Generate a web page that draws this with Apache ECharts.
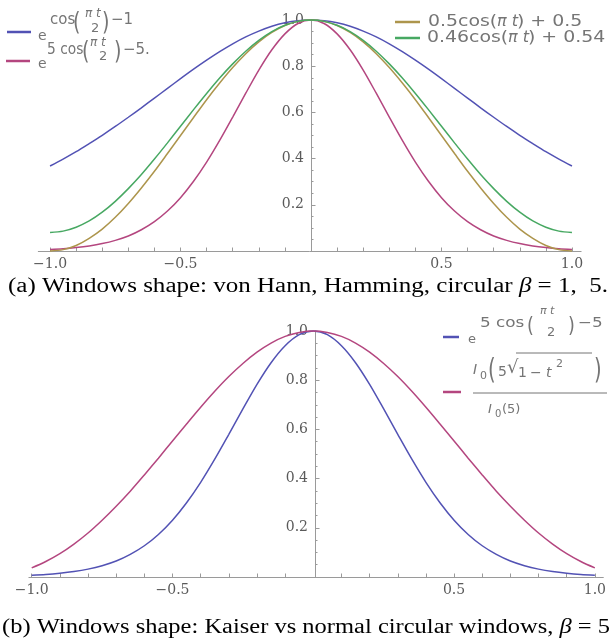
<!DOCTYPE html>
<html><head><meta charset="utf-8">
<script src="https://cdn.jsdelivr.net/npm/echarts@6/dist/echarts.min.js"></script>
<style>html,body{margin:0;padding:0;background:#fff}#c{width:609px;height:643px}</style>
</head><body><div id="c"></div>
<script>
// ---- data ----
const tValues = [-1.00,-0.95,-0.90,-0.85,-0.80,-0.75,-0.70,-0.65,-0.60,-0.55,-0.50,-0.45,-0.40,-0.35,-0.30,-0.25,-0.20,-0.15,-0.10,-0.05,0,0.05,0.10,0.15,0.20,0.25,0.30,0.35,0.40,0.45,0.50,0.55,0.60,0.65,0.70,0.75,0.80,0.85,0.90,0.95,1.00];
const circular1 = [0.368,0.398,0.430,0.465,0.501,0.539,0.579,0.620,0.662,0.704,0.746,0.787,0.826,0.863,0.897,0.927,0.952,0.973,0.988,0.997,1,0.997,0.988,0.973,0.952,0.927,0.897,0.863,0.826,0.787,0.746,0.704,0.662,0.620,0.579,0.539,0.501,0.465,0.430,0.398,0.368];
const circular5 = [0.007,0.010,0.015,0.022,0.032,0.046,0.065,0.092,0.127,0.173,0.231,0.302,0.385,0.479,0.580,0.683,0.783,0.871,0.940,0.985,1,0.985,0.940,0.871,0.783,0.683,0.580,0.479,0.385,0.302,0.231,0.173,0.127,0.092,0.065,0.046,0.032,0.022,0.015,0.010,0.007];
const hann = [0.000,0.006,0.024,0.055,0.095,0.146,0.206,0.273,0.345,0.422,0.500,0.578,0.655,0.727,0.794,0.854,0.905,0.946,0.976,0.994,1,0.994,0.976,0.946,0.905,0.854,0.794,0.727,0.655,0.578,0.500,0.422,0.345,0.273,0.206,0.146,0.095,0.055,0.024,0.006,0.000];
const hamming = [0.080,0.086,0.103,0.130,0.168,0.215,0.270,0.331,0.398,0.468,0.540,0.612,0.682,0.749,0.810,0.865,0.912,0.950,0.977,0.994,1,0.994,0.977,0.950,0.912,0.865,0.810,0.749,0.682,0.612,0.540,0.468,0.398,0.331,0.270,0.215,0.168,0.130,0.103,0.086,0.080];
const kaiser = [0.037,0.063,0.095,0.134,0.179,0.231,0.288,0.349,0.415,0.483,0.553,0.622,0.690,0.755,0.815,0.868,0.914,0.951,0.978,0.994,1,0.994,0.978,0.951,0.914,0.868,0.815,0.755,0.690,0.622,0.553,0.483,0.415,0.349,0.288,0.231,0.179,0.134,0.095,0.063,0.037];
const xTickLabels = [-1, -0.5, 0.5, 1];
const xTicks = [-1,-0.9,-0.8,-0.7,-0.6,-0.5,-0.4,-0.3,-0.2,-0.1,0.1,0.2,0.3,0.4,0.5,0.6,0.7,0.8,0.9,1];
const yTickLabels = [0.2, 0.4, 0.6, 0.8, 1.0];
const captionA = ['(a) Windows shape: von Hann, Hamming, circular ', 'β', ' = 1,  5.'];
const captionB = ['(b) Windows shape: Kaiser vs normal circular windows, ', 'β', ' = 5'];

// ---- style ----
const BLUE = '#5252b4', MAG = '#b4467f', GOLD = '#ad954c', GREEN = '#47a862';
const AX = '#9a9a9a', LBL = '#5a5a5a', GRAY = '#757575';
const SERIF = '"DejaVu Serif", serif';
const SANS = '"DejaVu Sans", sans-serif';

const pairs = arr => tValues.map((t, i) => [t, arr[i]]);
const xfmt = v => (v < 0 ? '\u2212' : '') + Math.abs(v).toFixed(1);

function xAxisCfg(grid, min, max) {
  return { type: 'value', gridIndex: grid, min: min, max: max,
    axisLine: { show: true, onZero: true, lineStyle: { color: AX, width: 1 } },
    axisTick: { show: true, inside: true, length: 3.5, customValues: xTicks, lineStyle: { color: AX } },
    axisLabel: { show: true, customValues: xTickLabels, formatter: xfmt, color: LBL, fontFamily: SERIF, fontSize: 14, margin: 6 },
    splitLine: { show: false } };
}
function yAxisCfg(grid, offset) {
  return { type: 'value', gridIndex: grid, min: 0, max: 1, interval: 0.2, position: 'left', offset: offset,
    axisLine: { show: true, onZero: false, lineStyle: { color: AX, width: 1 } },
    axisTick: { show: true, inside: true, length: 4.5, lineStyle: { color: AX } },
    minorTick: { show: true, splitNumber: 4, length: 2.5, lineStyle: { color: AX } },
    axisLabel: { show: true, customValues: yTickLabels, formatter: v => v.toFixed(1), color: LBL, fontFamily: SERIF, fontSize: 14, margin: 7 },
    splitLine: { show: false } };
}
function line(name, arr, color, g) {
  return { name: name, type: 'line', xAxisIndex: g, yAxisIndex: g, data: pairs(arr), showSymbol: false, smooth: 0.3, clip: false,
    lineStyle: { color: color, width: 1.5 }, itemStyle: { color: color } };
}
function T(x, y, text, size, o) {
  o = o || {};
  return { type: 'text', x: x, y: y, scaleX: o.sx || 1, z: 50, silent: true,
    style: { text: text, font: (o.it ? 'italic ' : '') + size + 'px ' + (o.ff || SANS), fill: o.fill || GRAY,
      textAlign: o.al || 'left', textVerticalAlign: 'middle' } };
}
function L(x1, y1, x2, y2, color, w) {
  return { type: 'line', z: 50, silent: true, shape: { x1: x1, y1: y1, x2: x2, y2: y2 }, style: { stroke: color, lineWidth: w } };
}
// caption laid out as text pieces, horizontally stretched to the reference width
const mctx = document.createElement('canvas').getContext('2d');
function caption(parts, x0, y, targetW) {
  const fN = '20px "Liberation Serif"', fI = 'italic 20px "Liberation Serif"';
  const fonts = parts.map((p, i) => i === 1 ? fI : fN);
  const ws = parts.map((p, i) => { mctx.font = fonts[i]; return mctx.measureText(p).width; });
  const s = targetW / ws.reduce((a, b) => a + b, 0);
  let x = x0;
  return parts.map((p, i) => {
    const el = { type: 'text', x: x, y: y, scaleX: s, silent: true,
      style: { text: p, font: fonts[i], fill: '#000', textAlign: 'left', textVerticalAlign: 'middle' } };
    x += ws[i] * s;
    return el;
  });
}

const chart = echarts.init(document.getElementById('c'));
chart.setOption({
  animation: false,
  backgroundColor: '#fff',
  grid: [
    { left: 38.3, top: 20, width: 542.8, height: 231 },
    { left: 28.9, top: 331, width: 577.9, height: 246 }
  ],
  xAxis: [ xAxisCfg(0, -1.045, 1.035), xAxisCfg(1, -1.01, 1.03) ],
  yAxis: [ yAxisCfg(0, -272.7), yAxisCfg(1, -286.1) ],
  series: [
    line('e^(cos(πt/2)−1)', circular1, BLUE, 0),
    line('e^(5cos(πt/2)−5.)', circular5, MAG, 0),
    line('0.5cos(πt)+0.5', hann, GOLD, 0),
    line('0.46cos(πt)+0.54', hamming, GREEN, 0),
    line('e^(5cos(πt/2)−5)', circular5, BLUE, 1),
    line('I0(5√(1−t²))/I0(5)', kaiser, MAG, 1)
  ],
  graphic: [].concat(
    caption(captionA, 8, 287, 600),
    caption(captionB, 2, 628, 608),
    [
    // top-left legend
    L(7, 32, 31, 32, BLUE, 2.5),
    T(38, 36, 'e', 14), T(50, 20, 'cos', 15), T(73, 24, '(', 24, { sx: 0.8 }),
    T(85, 14, 'π t', 12, { it: true }), T(91, 29, '2', 13), T(102, 24, ')', 24, { sx: 0.8 }), T(111, 20, '\u22121', 15),
    L(6, 61, 30, 61, MAG, 2.5),
    T(38, 64, 'e', 14), T(47, 50, '5 cos', 15, { sx: 0.92 }), T(82, 53, '(', 24, { sx: 0.8 }),
    T(90, 43, 'π t', 12, { it: true }), T(99, 57, '2', 13), T(114, 53, ')', 24, { sx: 0.8 }), T(123, 50, '\u22125.', 15),
    // top-right legend
    L(395, 22, 420, 22, GOLD, 2.5),
    T(428, 22, '0.5cos(', 16, { sx: 1.18 }), T(497, 22, 'π t', 16, { it: true }), T(517, 22, ') + 0.5', 16, { sx: 1.18 }),
    L(395, 38, 420, 38, GREEN, 2.5),
    T(427, 38, '0.46cos(', 16, { sx: 1.18 }), T(508, 38, 'π t', 16, { it: true }), T(528, 38, ') + 0.54', 16, { sx: 1.18 }),
    // bottom legend
    L(443, 337, 459, 337, BLUE, 2.5),
    T(468, 340, 'e', 13), T(480, 323, '5 cos', 14, { sx: 1.2 }), T(527, 326, '(', 22, { sx: 0.8 }),
    T(540, 311, 'π t', 11, { it: true }), T(547, 333, '2', 13), T(568, 326, ')', 22, { sx: 0.8 }), T(578, 323, '\u22125', 14, { sx: 1.2 }),
    L(443, 392, 461, 392, MAG, 2.5),
    T(473, 370, 'I', 14, { it: true }), T(480, 376, '0', 11), T(488, 372, '(', 28, { sx: 0.7 }),
    T(498, 372, '5', 14), T(507, 368, '√', 18), L(516, 353, 592, 353, GRAY, 1),
    T(518, 373, '1', 14), T(530, 373, '\u2212', 14), T(546, 373, 't', 14, { it: true }), T(556, 364, '2', 11),
    T(594, 372, ')', 28, { sx: 0.7 }),
    L(473, 393, 607, 393, GRAY, 1),
    T(488, 410, 'I', 13, { it: true }), T(495, 414, '0', 10), T(502, 410, '(5)', 13)
    ])
});
</script>
</body></html>
